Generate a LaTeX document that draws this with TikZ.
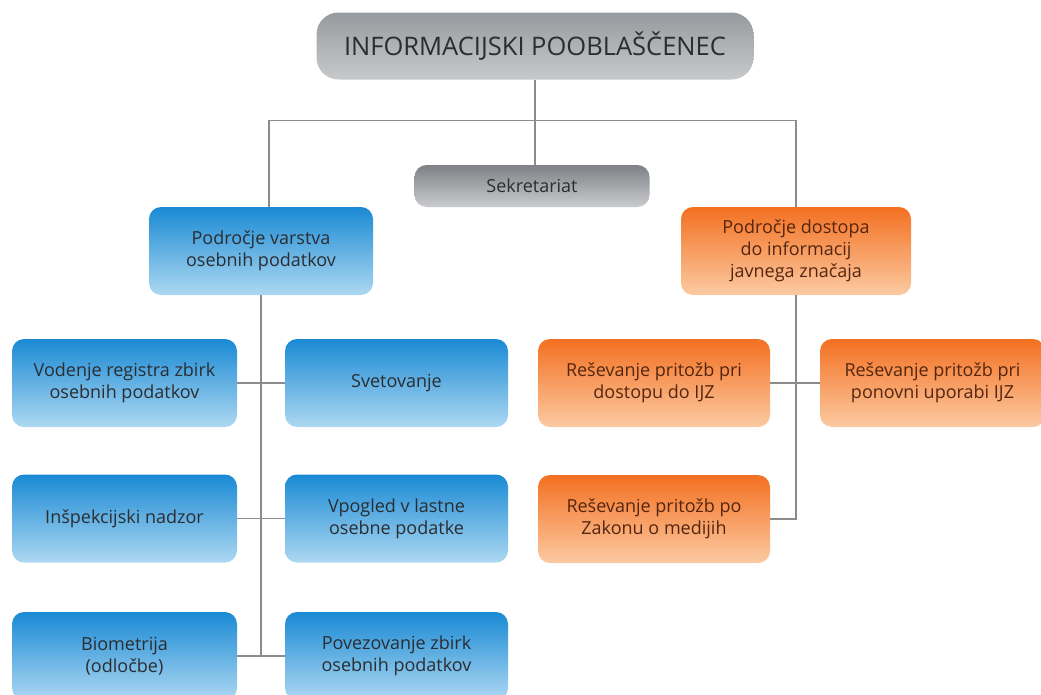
\documentclass[tikz,border=0pt]{standalone}
\usepackage{fontspec}
\setmainfont{Open Sans}
\usetikzlibrary{positioning}

\definecolor{bluetop}{HTML}{1A8AD4}
\definecolor{bluebot}{HTML}{ADD8F2}
\definecolor{orangetop}{HTML}{F37021}
\definecolor{orangebot}{HTML}{FCCAA2}
\definecolor{graytop}{HTML}{7E8286}
\definecolor{graybot}{HTML}{CACBCD}
\definecolor{chieftop}{HTML}{979A9E}
\definecolor{chiefbot}{HTML}{C8C9CB}
\definecolor{textgray}{HTML}{2A2D31}
\definecolor{textbrown}{HTML}{55260F}
\definecolor{linegray}{HTML}{8C8C8C}

\begin{document}
\begin{tikzpicture}[x=1pt,y=-1pt,
	box/.style={rounded corners=12pt, align=center, text=textgray, inner sep=2pt,
		font=\fontsize{18}{22}\selectfont},
	bluebox/.style={box, top color=bluetop, bottom color=bluebot,
		minimum width=225pt, minimum height=88pt},
	orangebox/.style={box, top color=orangetop, bottom color=orangebot, text=textbrown,
		minimum width=230pt, minimum height=88pt},
	graybox/.style={box, top color=graytop, bottom color=graybot},
	link/.style={draw=linegray, line width=1.3pt}]
	\useasboundingbox (0,0) rectangle (1041,694);

	% head and secretariat
	\node[graybox, rounded corners=22pt, top color=chieftop, bottom color=chiefbot,
		minimum width=437pt, minimum height=67pt, font=\fontsize{25.5}{30}\selectfont]
		(chief) at (535,46) {INFORMACIJSKI POOBLAŠČENEC};
	\node[graybox, minimum width=235pt, minimum height=42pt] (sekr) at (532,186) {Sekretariat};

	% the two fields
	\node[bluebox, minimum width=224pt] (varstvo) at (261,251) {Področje varstva\\osebnih podatkov};
	\node[orangebox] (dostop) at (796,251) {Področje dostopa\\do informacij\\javnega značaja};

	% personal data
	\node[bluebox] (vodenje) at (124.5,383) {Vodenje registra zbirk\\osebnih podatkov};
	\node[bluebox, minimum width=223pt] (svet) at (396.5,383) {Svetovanje};
	\node[bluebox] (insp) at (124.5,518.5) {Inšpekcijski nadzor};
	\node[bluebox, minimum width=223pt] (vpogled) at (396.5,518.5) {Vpogled v lastne\\osebne podatke};
	\node[bluebox] (biom) at (124.5,656) {Biometrija\\(odločbe)};
	\node[bluebox, minimum width=223pt] (povez) at (396.5,656) {Povezovanje zbirk\\osebnih podatkov};

	% public information
	\node[orangebox, minimum width=232pt] (resdost) at (654,383) {Reševanje pritožb pri\\dostopu do IJZ};
	\node[orangebox, minimum width=225pt] (resupor) at (932.5,383) {Reševanje pritožb pri\\ponovni uporabi IJZ};
	\node[orangebox, minimum width=232pt] (medij) at (654,519) {Reševanje pritožb po\\Zakonu o medijih};

	% connectors
	\draw[link] (chief.south) -- (chief.south |- sekr.north);
	\draw[link] ([xshift=8pt]varstvo.north) -- ++(0,-86) -| (dostop.north);
	\draw[link] (varstvo.south) -- (varstvo.south |- biom.east);
	\draw[link] (vodenje.east) -- (svet.west);
	\draw[link] (insp.east) -- (vpogled.west);
	\draw[link] (biom.east) -- (povez.west);
	\draw[link] (dostop.south) |- (medij.east);
	\draw[link] (resdost.east) -- (resupor.west);
\end{tikzpicture}
\end{document}
